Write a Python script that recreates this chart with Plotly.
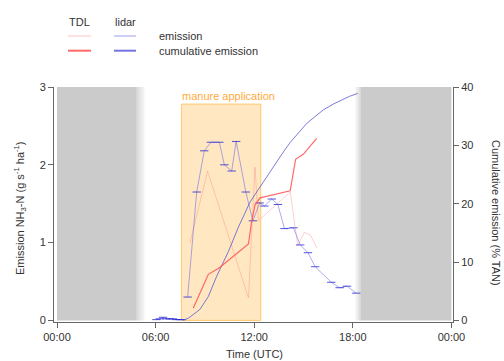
import plotly.graph_objects as go

# ---------------- data ----------------
x_tick_vals = [0, 6, 12, 18, 24]
x_tick_text = ["00:00", "06:00", "12:00", "18:00", "00:00"]

# lidar emission (g s-1 ha-1), time in hours UTC; None = gap
lidar_hours = [6.05, 6.25, 6.45, 6.65, 6.85, 7.05, 7.25, 7.45, 7.6, None,
               7.95, 8.50, 8.96, 9.37, 9.88, 10.18, 10.63, 10.90, 11.49, 11.92,
               12.33, 12.62, 13.07, 13.44, 13.84, 14.39, 14.80, 15.27, 15.71,
               16.69, 17.20, 17.65, 18.21]
lidar_emis = [0.01, 0.02, 0.04, 0.02, 0.02, 0.02, 0.01, 0.01, 0.01, None,
              0.30, 1.65, 2.18, 2.29, 2.29, 2.00, 1.92, 2.30, 1.65, 1.28,
              1.51, 1.47, 1.56, 1.49, 1.18, 1.19, 0.97, 0.87, 0.69,
              0.49, 0.42, 0.44, 0.35]

# lidar cumulative emission (% TAN)
lidar_cum_hours = [7.68, 8.0, 8.29, 8.70, 9.21, 9.72, 10.43, 11.04, 11.75, 12.35,
                   12.77, 13.3, 13.78, 14.19, 14.80, 15.21, 15.82, 16.22, 16.83,
                   17.24, 17.80, 18.30]
lidar_cum = [0.0, 0.4, 1.0, 1.9, 4.1, 7.6, 11.8, 16.0, 20.3, 22.9,
             24.6, 26.9, 28.9, 30.5, 32.5, 33.8, 35.2, 36.1, 37.1,
             37.7, 38.4, 38.9]

# TDL emission (g s-1 ha-1)
tdl_hours = [8.1, 9.16, 11.65, 12.05, 12.25, 14.19, 14.65, 15.04, 15.41, 15.82]
tdl_emis = [1.0, 1.92, 0.29, 1.97, 1.28, 1.65, 0.96, 1.13, 1.10, 0.93]

# TDL cumulative emission (% TAN)
tdl_cum_hours = [8.29, 9.21, 9.86, 11.65, 11.84, 12.05, 12.36, 14.19, 14.52, 15.0, 15.80]
tdl_cum = [2.1, 7.9, 9.0, 13.1, 16.9, 19.8, 21.0, 22.2, 27.6, 28.5, 31.2]

# periods
night_periods = [(0.0, 4.85, 5.4), (18.1, 18.5, 24.0)]  # (start, fade, end)
manure_start, manure_end, manure_top = 7.57, 12.40, 2.78

# ---------------- figure ----------------
GRAY = 203
L, R, T, B = 54, 51, 87, 39
W, H = 504, 361
PW, PH = W - L - R, H - T - B


def px(x):
    return (x - L) / PW


def py(y):
    return (H - B - y) / PH


fig = go.Figure()

shapes = []
# night shading with twilight gradients
s0, f0, e0 = night_periods[0]
shapes.append(dict(type="rect", xref="x", yref="y", x0=s0, x1=f0, y0=0, y1=3,
                   fillcolor=f"rgb({GRAY},{GRAY},{GRAY})", line_width=0, layer="below"))
n = 10
for i in range(n):
    a = f0 + (e0 - f0) * i / n
    b = f0 + (e0 - f0) * (i + 1) / n
    g = int(GRAY + (255 - GRAY) * (i + 0.5) / n)
    shapes.append(dict(type="rect", xref="x", yref="y", x0=a, x1=b, y0=0, y1=3,
                       fillcolor=f"rgb({g},{g},{g})", line_width=0, layer="below"))
s1, f1, e1 = night_periods[1]
for i in range(n):
    a = s1 + (f1 - s1) * i / n
    b = s1 + (f1 - s1) * (i + 1) / n
    g = int(255 - (255 - GRAY) * (i + 0.5) / n)
    shapes.append(dict(type="rect", xref="x", yref="y", x0=a, x1=b, y0=0, y1=3,
                       fillcolor=f"rgb({g},{g},{g})", line_width=0, layer="below"))
shapes.append(dict(type="rect", xref="x", yref="y", x0=f1, x1=e1, y0=0, y1=3,
                   fillcolor=f"rgb({GRAY},{GRAY},{GRAY})", line_width=0, layer="below"))

# manure application box
shapes.append(dict(type="rect", xref="x", yref="y", x0=manure_start, x1=manure_end,
                   y0=0, y1=manure_top, fillcolor="rgb(255,231,194)",
                   line=dict(color="rgb(255,200,110)", width=1), layer="below"))

# legend samples
shapes.append(dict(type="line", xref="paper", yref="paper", x0=px(68), x1=px(91),
                   y0=py(36), y1=py(36), line=dict(color="rgba(255,120,120,0.45)", width=1)))
shapes.append(dict(type="line", xref="paper", yref="paper", x0=px(114), x1=px(136),
                   y0=py(36), y1=py(36), line=dict(color="rgba(90,90,230,0.6)", width=1)))
shapes.append(dict(type="line", xref="paper", yref="paper", x0=px(68), x1=px(91),
                   y0=py(50.7), y1=py(50.7), line=dict(color="rgba(255,80,80,0.85)", width=2)))
shapes.append(dict(type="line", xref="paper", yref="paper", x0=px(114), x1=px(136),
                   y0=py(50.7), y1=py(50.7), line=dict(color="rgba(90,90,220,0.85)", width=2)))

# traces
fig.add_trace(go.Scatter(x=tdl_hours, y=tdl_emis, mode="lines",
                         line=dict(color="rgba(255,120,120,0.35)", width=1),
                         showlegend=False))
fig.add_trace(go.Scatter(x=lidar_hours, y=lidar_emis, mode="lines+markers",
                         line=dict(color="rgba(90,90,230,0.5)", width=1),
                         marker=dict(symbol="line-ew", size=6,
                                     line=dict(color="rgba(40,40,210,0.8)", width=1)),
                         connectgaps=False, showlegend=False))
fig.add_trace(go.Scatter(x=lidar_cum_hours, y=lidar_cum, mode="lines", yaxis="y2",
                         line=dict(color="rgba(90,90,210,0.8)", width=1),
                         showlegend=False))
fig.add_trace(go.Scatter(x=tdl_cum_hours, y=tdl_cum, mode="lines", yaxis="y2",
                         line=dict(color="rgba(255,80,80,0.85)", width=1.2),
                         showlegend=False))

FONT = "Liberation Sans, Arial, sans-serif"
TXT = "#333333"

annotations = [
    dict(text="manure application", xref="x", yref="y", x=manure_start, y=manure_top,
         xanchor="left", yanchor="bottom", showarrow=False, xshift=-1, yshift=0,
         font=dict(color="rgb(255,170,60)", size=11, family=FONT)),
    dict(text="TDL", xref="paper", yref="paper", x=px(79), y=py(21.7), xanchor="center",
         yanchor="middle", showarrow=False, font=dict(color=TXT, size=11, family=FONT)),
    dict(text="lidar", xref="paper", yref="paper", x=px(125), y=py(21.7), xanchor="center",
         yanchor="middle", showarrow=False, font=dict(color=TXT, size=11, family=FONT)),
    dict(text="emission", xref="paper", yref="paper", x=px(157), y=py(36), xanchor="left",
         yanchor="middle", showarrow=False, font=dict(color=TXT, size=11, family=FONT)),
    dict(text="cumulative emission", xref="paper", yref="paper", x=px(157), y=py(50.7),
         xanchor="left", yanchor="middle", showarrow=False,
         font=dict(color=TXT, size=11, family=FONT)),
    dict(text="Time (UTC)", xref="paper", yref="paper", x=px(254), y=py(354),
         xanchor="center", yanchor="middle", showarrow=False,
         font=dict(color=TXT, size=11, family=FONT)),
    dict(text="Emission NH<sub>3</sub>-N (g s<sup>-1</sup> ha<sup>-1</sup>)", xref="paper",
         yref="paper", x=px(20), y=py(208), xanchor="center", yanchor="middle",
         textangle=-90, showarrow=False, font=dict(color=TXT, size=11, family=FONT)),
    dict(text="Cumulative emission (% TAN)", xref="paper", yref="paper", x=px(496),
         y=py(213), xanchor="center", yanchor="middle", textangle=90, showarrow=False,
         font=dict(color=TXT, size=11, family=FONT)),
]

axis_common = dict(showgrid=False, zeroline=False, showline=True, linecolor="#666",
                   linewidth=1, ticks="outside", ticklen=5, tickcolor="#666",
                   tickfont=dict(color=TXT, size=11, family=FONT))

fig.update_layout(
    width=W, height=H, autosize=False,
    margin=dict(l=L, r=R, t=T, b=B, pad=0),
    paper_bgcolor="white", plot_bgcolor="white",
    showlegend=False,
    shapes=shapes, annotations=annotations,
    xaxis=dict(range=[-0.183, 24.097], tickvals=x_tick_vals, ticktext=x_tick_text,
               **axis_common),
    yaxis=dict(range=[-0.0205, 3.0], tickvals=[0, 1, 2, 3], **axis_common),
    yaxis2=dict(range=[-0.273, 40], tickvals=[0, 10, 20, 30, 40], overlaying="y",
                side="right", anchor="x", **axis_common),
)

fig.write_html("out.html")
